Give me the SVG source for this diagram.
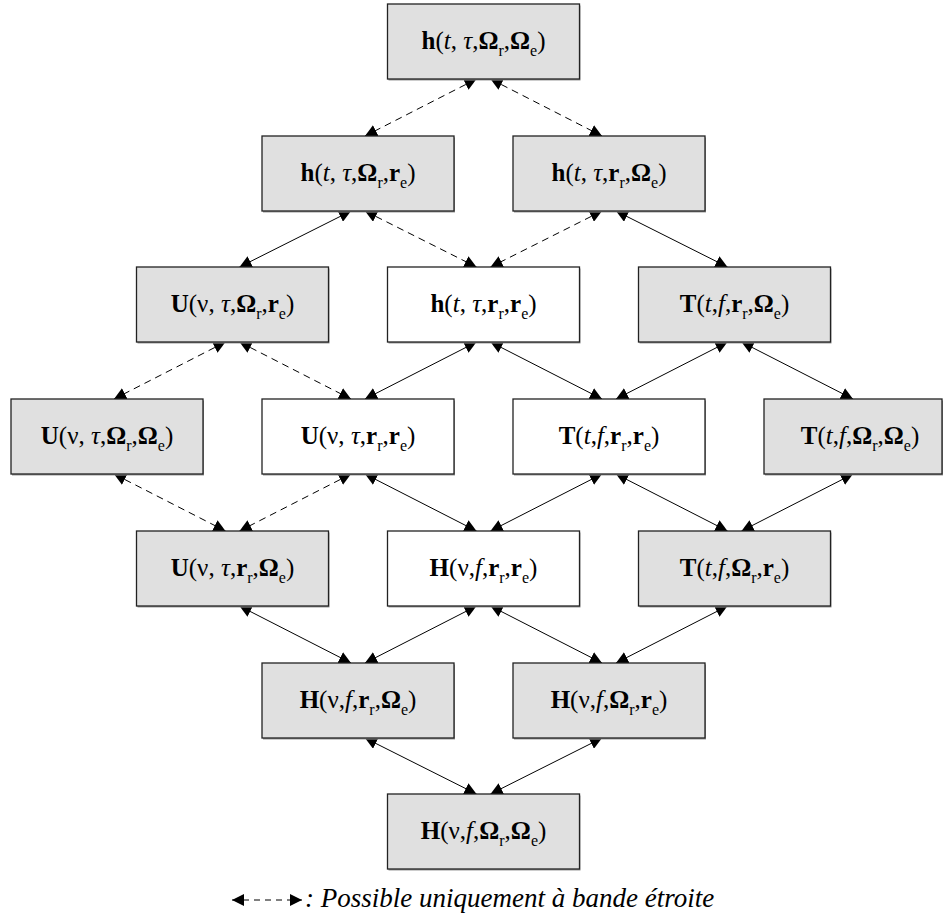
<svg xmlns="http://www.w3.org/2000/svg" width="944" height="918" viewBox="0 0 944 918">
<defs>
<style>
.box{stroke:#222;stroke-width:1.3}
.g{fill:#e0e0e0}
.w{fill:#fff}
.sh{fill:#9a9a9a}
.t{font-family:"Liberation Serif","Times New Roman",serif;font-size:25px;fill:#000;text-anchor:middle}
.b{font-weight:bold}
.i{font-style:italic}
.s{font-size:16px}
.c line{stroke:#000;stroke-width:1;fill:none;marker-start:url(#ah);marker-end:url(#ah)}
.c line.d{stroke-dasharray:7,5}
.leg{font-family:"Liberation Serif","Times New Roman",serif;font-size:27px;font-style:italic;fill:#000}
</style>
<marker id="ah" viewBox="0 0 10 10" refX="10" refY="5" markerWidth="12" markerHeight="12" markerUnits="userSpaceOnUse" orient="auto-start-reverse">
<path d="M0,0 L10,5 L0,10 z" fill="#000"/>
</marker>
</defs>

<g id="connectors" class="c">
<line class="d" x1="476.5" y1="79" x2="365" y2="136"/>
<line class="d" x1="490.5" y1="79" x2="602" y2="136"/>
<line x1="351" y1="211" x2="239.5" y2="267"/>
<line class="d" x1="365" y1="211" x2="476.5" y2="267"/>
<line class="d" x1="602" y1="211" x2="490.5" y2="267"/>
<line x1="616" y1="211" x2="727.5" y2="267"/>
<line class="d" x1="225.5" y1="342" x2="114" y2="399"/>
<line class="d" x1="239.5" y1="342" x2="351" y2="399"/>
<line x1="476.5" y1="342" x2="365" y2="399"/>
<line x1="490.5" y1="342" x2="602" y2="399"/>
<line x1="727.5" y1="342" x2="616" y2="399"/>
<line x1="741.5" y1="342" x2="853" y2="399"/>
<line class="d" x1="114" y1="474" x2="225.5" y2="531"/>
<line class="d" x1="351" y1="474" x2="239.5" y2="531"/>
<line x1="365" y1="474" x2="476.5" y2="531"/>
<line x1="602" y1="474" x2="490.5" y2="531"/>
<line x1="616" y1="474" x2="727.5" y2="531"/>
<line x1="853" y1="474" x2="741.5" y2="531"/>
<line x1="239.5" y1="606" x2="351" y2="663"/>
<line x1="476.5" y1="606" x2="365" y2="663"/>
<line x1="490.5" y1="606" x2="602" y2="663"/>
<line x1="727.5" y1="606" x2="616" y2="663"/>
<line x1="365" y1="738" x2="476.5" y2="794"/>
<line x1="602" y1="738" x2="490.5" y2="794"/>
</g>

<g id="n_h_t_tau_Or_Oe">
<rect class="sh" x="388.5" y="5.5" width="192" height="75"/>
<rect class="box g" x="387.5" y="4" width="192" height="75"/>
<text class="t" x="483.5" y="49"><tspan class="b">h</tspan>(<tspan class="i">t</tspan>, <tspan class="i">τ</tspan>,<tspan class="b">Ω</tspan><tspan class="s" dy="7">r</tspan><tspan dy="-7">,</tspan><tspan class="b">Ω</tspan><tspan class="s" dy="7">e</tspan><tspan dy="-7">)</tspan></text>
</g>

<g id="n_h_t_tau_Or_re">
<rect class="sh" x="263" y="137.5" width="192" height="75"/>
<rect class="box g" x="262" y="136" width="192" height="75"/>
<text class="t" x="358" y="181"><tspan class="b">h</tspan>(<tspan class="i">t</tspan>, <tspan class="i">τ</tspan>,<tspan class="b">Ω</tspan><tspan class="s" dy="7">r</tspan><tspan dy="-7">,</tspan><tspan class="b">r</tspan><tspan class="s" dy="7">e</tspan><tspan dy="-7">)</tspan></text>
</g>

<g id="n_h_t_tau_rr_Oe">
<rect class="sh" x="514" y="137.5" width="192" height="75"/>
<rect class="box g" x="513" y="136" width="192" height="75"/>
<text class="t" x="609" y="181"><tspan class="b">h</tspan>(<tspan class="i">t</tspan>, <tspan class="i">τ</tspan>,<tspan class="b">r</tspan><tspan class="s" dy="7">r</tspan><tspan dy="-7">,</tspan><tspan class="b">Ω</tspan><tspan class="s" dy="7">e</tspan><tspan dy="-7">)</tspan></text>
</g>

<g id="n_U_nu_tau_Or_re">
<rect class="sh" x="137.5" y="268.5" width="192" height="75"/>
<rect class="box g" x="136.5" y="267" width="192" height="75"/>
<text class="t" x="232.5" y="312"><tspan class="b">U</tspan>(ν, <tspan class="i">τ</tspan>,<tspan class="b">Ω</tspan><tspan class="s" dy="7">r</tspan><tspan dy="-7">,</tspan><tspan class="b">r</tspan><tspan class="s" dy="7">e</tspan><tspan dy="-7">)</tspan></text>
</g>

<g id="n_h_t_tau_rr_re">
<rect class="sh" x="388.5" y="268.5" width="192" height="75"/>
<rect class="box w" x="387.5" y="267" width="192" height="75"/>
<text class="t" x="483.5" y="312"><tspan class="b">h</tspan>(<tspan class="i">t</tspan>, <tspan class="i">τ</tspan>,<tspan class="b">r</tspan><tspan class="s" dy="7">r</tspan><tspan dy="-7">,</tspan><tspan class="b">r</tspan><tspan class="s" dy="7">e</tspan><tspan dy="-7">)</tspan></text>
</g>

<g id="n_T_t_f_rr_Oe">
<rect class="sh" x="639.5" y="268.5" width="192" height="75"/>
<rect class="box g" x="638.5" y="267" width="192" height="75"/>
<text class="t" x="734.5" y="312"><tspan class="b">T</tspan>(<tspan class="i">t</tspan>,<tspan class="i">f</tspan>,<tspan class="b">r</tspan><tspan class="s" dy="7">r</tspan><tspan dy="-7">,</tspan><tspan class="b">Ω</tspan><tspan class="s" dy="7">e</tspan><tspan dy="-7">)</tspan></text>
</g>

<g id="n_U_nu_tau_Or_Oe">
<rect class="sh" x="12" y="400.5" width="192" height="75"/>
<rect class="box g" x="11" y="399" width="192" height="75"/>
<text class="t" x="107" y="444"><tspan class="b">U</tspan>(ν, <tspan class="i">τ</tspan>,<tspan class="b">Ω</tspan><tspan class="s" dy="7">r</tspan><tspan dy="-7">,</tspan><tspan class="b">Ω</tspan><tspan class="s" dy="7">e</tspan><tspan dy="-7">)</tspan></text>
</g>

<g id="n_U_nu_tau_rr_re">
<rect class="sh" x="263" y="400.5" width="192" height="75"/>
<rect class="box w" x="262" y="399" width="192" height="75"/>
<text class="t" x="358" y="444"><tspan class="b">U</tspan>(ν, <tspan class="i">τ</tspan>,<tspan class="b">r</tspan><tspan class="s" dy="7">r</tspan><tspan dy="-7">,</tspan><tspan class="b">r</tspan><tspan class="s" dy="7">e</tspan><tspan dy="-7">)</tspan></text>
</g>

<g id="n_T_t_f_rr_re">
<rect class="sh" x="514" y="400.5" width="192" height="75"/>
<rect class="box w" x="513" y="399" width="192" height="75"/>
<text class="t" x="609" y="444"><tspan class="b">T</tspan>(<tspan class="i">t</tspan>,<tspan class="i">f</tspan>,<tspan class="b">r</tspan><tspan class="s" dy="7">r</tspan><tspan dy="-7">,</tspan><tspan class="b">r</tspan><tspan class="s" dy="7">e</tspan><tspan dy="-7">)</tspan></text>
</g>

<g id="n_T_t_f_Or_Oe">
<rect class="sh" x="765" y="400.5" width="178" height="75"/>
<rect class="box g" x="764" y="399" width="178" height="75"/>
<text class="t" x="860" y="444"><tspan class="b">T</tspan>(<tspan class="i">t</tspan>,<tspan class="i">f</tspan>,<tspan class="b">Ω</tspan><tspan class="s" dy="7">r</tspan><tspan dy="-7">,</tspan><tspan class="b">Ω</tspan><tspan class="s" dy="7">e</tspan><tspan dy="-7">)</tspan></text>
</g>

<g id="n_U_nu_tau_rr_Oe">
<rect class="sh" x="137.5" y="532.5" width="192" height="75"/>
<rect class="box g" x="136.5" y="531" width="192" height="75"/>
<text class="t" x="232.5" y="576"><tspan class="b">U</tspan>(ν, <tspan class="i">τ</tspan>,<tspan class="b">r</tspan><tspan class="s" dy="7">r</tspan><tspan dy="-7">,</tspan><tspan class="b">Ω</tspan><tspan class="s" dy="7">e</tspan><tspan dy="-7">)</tspan></text>
</g>

<g id="n_H_nu_f_rr_re">
<rect class="sh" x="388.5" y="532.5" width="192" height="75"/>
<rect class="box w" x="387.5" y="531" width="192" height="75"/>
<text class="t" x="483.5" y="576"><tspan class="b">H</tspan>(ν,<tspan class="i">f</tspan>,<tspan class="b">r</tspan><tspan class="s" dy="7">r</tspan><tspan dy="-7">,</tspan><tspan class="b">r</tspan><tspan class="s" dy="7">e</tspan><tspan dy="-7">)</tspan></text>
</g>

<g id="n_T_t_f_Or_re">
<rect class="sh" x="639.5" y="532.5" width="192" height="75"/>
<rect class="box g" x="638.5" y="531" width="192" height="75"/>
<text class="t" x="734.5" y="576"><tspan class="b">T</tspan>(<tspan class="i">t</tspan>,<tspan class="i">f</tspan>,<tspan class="b">Ω</tspan><tspan class="s" dy="7">r</tspan><tspan dy="-7">,</tspan><tspan class="b">r</tspan><tspan class="s" dy="7">e</tspan><tspan dy="-7">)</tspan></text>
</g>

<g id="n_H_nu_f_rr_Oe">
<rect class="sh" x="263" y="664.5" width="192" height="75"/>
<rect class="box g" x="262" y="663" width="192" height="75"/>
<text class="t" x="358" y="708"><tspan class="b">H</tspan>(ν,<tspan class="i">f</tspan>,<tspan class="b">r</tspan><tspan class="s" dy="7">r</tspan><tspan dy="-7">,</tspan><tspan class="b">Ω</tspan><tspan class="s" dy="7">e</tspan><tspan dy="-7">)</tspan></text>
</g>

<g id="n_H_nu_f_Or_re">
<rect class="sh" x="514" y="664.5" width="192" height="75"/>
<rect class="box g" x="513" y="663" width="192" height="75"/>
<text class="t" x="609" y="708"><tspan class="b">H</tspan>(ν,<tspan class="i">f</tspan>,<tspan class="b">Ω</tspan><tspan class="s" dy="7">r</tspan><tspan dy="-7">,</tspan><tspan class="b">r</tspan><tspan class="s" dy="7">e</tspan><tspan dy="-7">)</tspan></text>
</g>

<g id="n_H_nu_f_Or_Oe">
<rect class="sh" x="388.5" y="795.5" width="192" height="75"/>
<rect class="box g" x="387.5" y="794" width="192" height="75"/>
<text class="t" x="483.5" y="839"><tspan class="b">H</tspan>(ν,<tspan class="i">f</tspan>,<tspan class="b">Ω</tspan><tspan class="s" dy="7">r</tspan><tspan dy="-7">,</tspan><tspan class="b">Ω</tspan><tspan class="s" dy="7">e</tspan><tspan dy="-7">)</tspan></text>
</g>

<g id="legend">
<line x1="232" y1="900" x2="302" y2="900" stroke="#000" stroke-width="1" stroke-dasharray="6,5" marker-start="url(#ah)" marker-end="url(#ah)"/>
<text class="leg" x="305" y="907">: Possible uniquement à bande étroite</text>
</g>
</svg>
